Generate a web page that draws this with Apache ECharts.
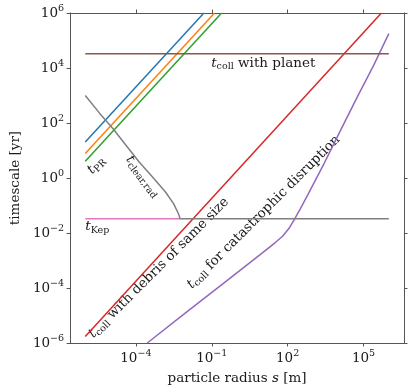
<!DOCTYPE html>
<html>
<head>
<meta charset="utf-8">
<script src="https://cdn.jsdelivr.net/npm/echarts@6/dist/echarts.min.js"></script>
<style>
  html, body { margin: 0; padding: 0; background: #fff; }
  #chart { width: 415px; height: 392px; }
</style>
</head>
<body>
<div id="chart"></div>
<script>
// ── data: particle radius s [m] vs timescale [yr] ──
const sPrBlue = [1e-6, 0.049];
const tPrBlue = [20.4, 1e6];
const sPrOrange = [1e-6, 0.129];
const tPrOrange = [7.8, 1e6];
const sPrGreen = [1e-6, 0.245];
const tPrGreen = [4.1, 1e6];

const sSame = [1e-6, 5.1e5];
const tSame = [1.74e-6, 1e6];

const sDisrupt = [2.82e-4, 1e-2, 0.316, 10, 31.6, 63, 112, 178, 316, 631, 2.82e3, 1.26e4, 5.5e4, 2.45e5, 1e6];
const tDisrupt = [1e-6, 1.32e-5, 1.58e-4, 1.9e-3, 4.4e-3, 7.6e-3, 1.45e-2, 2.95e-2, 7.6e-2, 0.25, 3.5, 56, 832, 1.2e4, 1.78e5];

const sPlanet = [1e-6, 1e6];
const tPlanet = [3.3e4, 3.3e4];

const sKep = [1e-6, 5.6e-3];
const tKep = [0.033, 0.033];

const sClear = [1e-6, 3.8e-6, 1.23e-5, 4.07e-5, 1.35e-4, 4.47e-4, 1.48e-3, 3.09e-3, 4.79e-3, 5.6e-3, 1e6];
const tClear = [1e3, 219, 63, 15.5, 3.8, 1.1, 0.31, 0.117, 0.051, 0.033, 0.033];

const xTicks = [1e-4, 1e-1, 1e2, 1e5];
const yTicks = [1e-6, 1e-4, 1e-2, 1, 1e2, 1e4, 1e6];
const xMin = 2.51e-7, xMax = 3.98e6;
const yMin = 1e-6, yMax = 1e6;

// text annotations: [s, t, rotation deg, align, text]
const notes = [
  [0.095, 1.48e4, 0, 'left', '{it|t}{sub|coll}{n| with planet}'],
  [2.7e-6, 2.9, 45, 'center', '{it|t}{sub|PR}'],
  [1.9e-4, 1.15, -53, 'center', '{it|t}{sub|clear,rad}'],
  [1e-6, 0.017, 0, 'left', '{it|t}{sub|Kep}'],
  [8.1e-4, 5.4e-4, 45, 'center', '{it|t}{sub|coll}{n| with debris of same size}'],
  [11.2, 0.058, 45, 'center', '{it|t}{sub|coll}{n| for catastrophic disruption}'],
];

const F = 'DejaVu Serif';
const ink = '#1a1a1a';
const spine = '#555';

const rich = {
  b: { fontFamily: F, fontSize: 13.5, lineHeight: 18, color: ink, fill: ink },
  s: { fontFamily: F, fontSize: 9.5, lineHeight: 10, padding: [0, 0, 8, 0], color: ink, fill: ink },
  it: { fontFamily: F, fontStyle: 'italic', fontSize: 13.5, lineHeight: 18, color: ink, fill: ink },
  sub: { fontFamily: F, fontSize: 9.5, lineHeight: 10, padding: [7, 0, 0, 0], color: ink, fill: ink },
  n: { fontFamily: F, fontSize: 13.5, lineHeight: 18, color: ink, fill: ink },
};

function pow10(v) {
  const e = Math.round(Math.log10(v));
  return '{b|10}{s|' + (e < 0 ? '\u2212' + (-e) : e) + '}';
}

function zip(a, b) { return a.map((v, i) => [v, b[i]]); }

function xAx(pos, labels) {
  return {
    type: 'log', logBase: 10, position: pos, min: xMin, max: xMax,
    axisLine: { show: true, onZero: false, lineStyle: { color: spine, width: 1 } },
    axisTick: { show: true, inside: false, length: 3.5, customValues: xTicks, lineStyle: { color: spine, width: 1 } },
    axisLabel: { show: labels, customValues: xTicks, margin: 6, formatter: pow10, rich: rich },
    splitLine: { show: false }, minorTick: { show: false },
  };
}
function yAx(pos, labels) {
  return {
    type: 'log', logBase: 10, position: pos, min: yMin, max: yMax,
    axisLine: { show: true, onZero: false, lineStyle: { color: spine, width: 1 } },
    axisTick: { show: true, inside: false, length: 3.5, customValues: yTicks, lineStyle: { color: spine, width: 1 } },
    axisLabel: { show: labels, customValues: yTicks, margin: 6, formatter: pow10, rich: rich },
    splitLine: { show: false }, minorTick: { show: false },
  };
}

function line(s, t, color) {
  return {
    type: 'line', data: zip(s, t), symbol: 'none', silent: true,
    lineStyle: { color: color, width: 1.5 }, clip: true,
  };
}

const chart = echarts.init(document.getElementById('chart'));
const xBottom = xAx('bottom', true);
xBottom.name = 'particle radius {i|s} [m]';
xBottom.nameLocation = 'middle';
xBottom.nameGap = 26;
xBottom.nameTextStyle = { fontFamily: F, fontSize: 13.5, color: ink, rich: { i: { fontFamily: F, fontSize: 13.5, fontStyle: 'italic', color: ink } } };
const yLeft = yAx('left', true);
yLeft.name = 'timescale [yr]';
yLeft.nameLocation = 'middle';
yLeft.nameGap = 40;
yLeft.nameTextStyle = { fontFamily: F, fontSize: 13.5, color: ink };

chart.setOption({
  animation: false,
  backgroundColor: '#fff',
  grid: { left: 65, top: 13, width: 339, height: 330 },
  xAxis: [xBottom, xAx('top', false)],
  yAxis: [yLeft, yAx('right', false)],
  series: [
    line(sPrBlue, tPrBlue, '#1f77b4'),
    line(sPrOrange, tPrOrange, '#ff7f0e'),
    line(sPrGreen, tPrGreen, '#2ca02c'),
    line(sSame, tSame, '#d62728'),
    line(sDisrupt, tDisrupt, '#9467bd'),
    line(sPlanet, tPlanet, '#8c564b'),
    line(sKep, tKep, '#e377c2'),
    line(sClear, tClear, '#7f7f7f'),
  ],
});

chart.setOption({
  graphic: notes.map(([s, t, rot, align, text]) => {
    const p = chart.convertToPixel({ xAxisIndex: 0, yAxisIndex: 0 }, [s, t]);
    return {
      type: 'text', x: p[0], y: p[1], rotation: rot * Math.PI / 180, silent: true,
      style: { text: text, rich: rich, align: align, verticalAlign: 'middle', fill: ink, fontFamily: F, fontSize: 13.5 },
    };
  }),
});
</script>
</body>
</html>
